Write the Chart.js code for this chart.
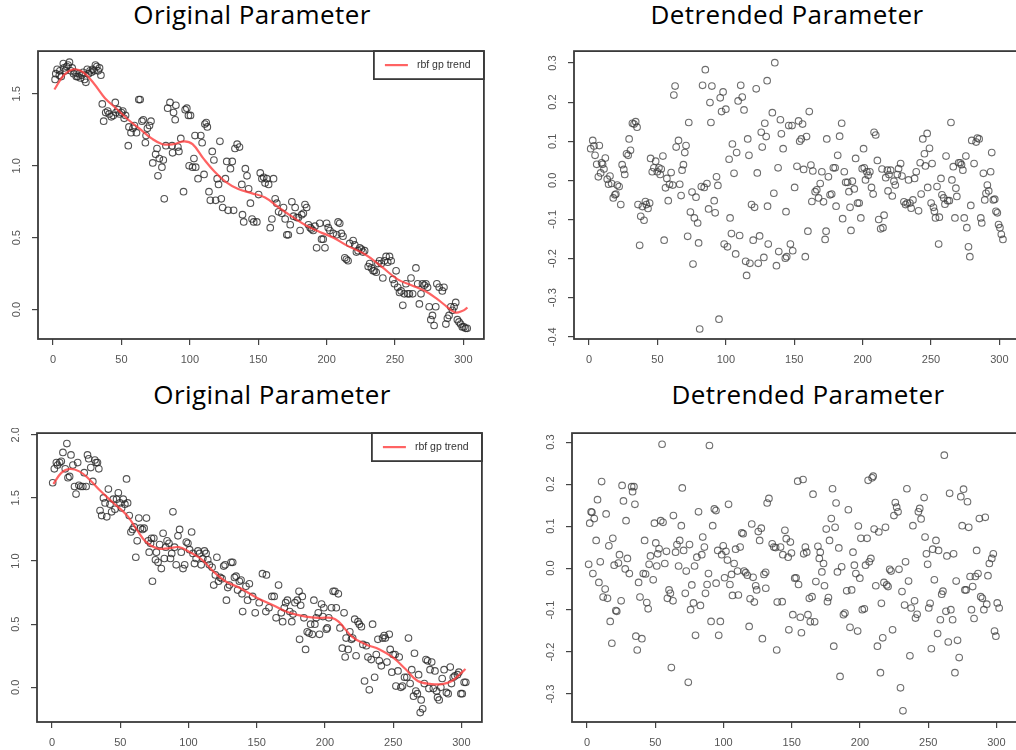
<!DOCTYPE html>
<html>
<head>
<meta charset="utf-8">
<script src="https://cdn.jsdelivr.net/npm/chart.js@4.4.1/dist/chart.umd.min.js"></script>
<style>
  html, body { margin: 0; padding: 0; background: #fff; }
  body { width: 1016px; height: 750px; position: relative; overflow: hidden; }
  canvas { position: absolute; }
  .title { position: absolute; width: 400px; text-align: center; font-family: 'Open Sans', sans-serif;
           font-size: 26px; line-height: 26px; letter-spacing: 0.4px; color: #000; white-space: nowrap; }
</style>
</head>
<body>
<div class="title" style="left:52px;top:1px">Original Parameter</div>
<div class="title" style="left:587px;top:1px">Detrended Parameter</div>
<div class="title" style="left:72px;top:381px">Original Parameter</div>
<div class="title" style="left:608px;top:381px">Detrended Parameter</div>
<canvas id="origTop"></canvas>
<canvas id="detTop"></canvas>
<canvas id="origBot"></canvas>
<canvas id="detBot"></canvas>
<script>
// tick positions
const xTickVals = [0, 50, 100, 150, 200, 250, 300];
const origTopYTicks = [0, 0.5, 1, 1.5];
const origBotYTicks = [0, 0.5, 1, 1.5, 2];
const detTopYTicks = [-0.4, -0.3, -0.2, -0.1, 0, 0.1, 0.2, 0.3];
const detBotYTicks = [-0.3, -0.2, -0.1, 0, 0.1, 0.2, 0.3];
const legendLabel = 'rbf gp trend';

// [index, value] samples, first run
const origTop = [
  [1.5,1.60],[2,1.64],[3,1.67],[4.6,1.63],[5,1.66],[6,1.62],[7.5,1.71],[8,1.68],[9,1.66],[10,1.69],
  [11,1.70],[12,1.72],[13,1.66],[14,1.68],[15,1.64],[16,1.65],[17,1.62],[18,1.62],[19,1.64],[20,1.61],
  [21,1.63],[22,1.65],[23,1.60],[24,1.58],[25,1.67],[26,1.64],[27,1.66],[28,1.65],[29,1.67],[30,1.66],
  [31,1.70],[32,1.69],[33,1.66],[34,1.68],[35,1.63],[36,1.43],[37,1.31],[38.5,1.37],[40,1.38],[41,1.36],
  [42.6,1.34],[44,1.35],[45.5,1.44],[46,1.37],[47.5,1.39],[48.6,1.36],[50,1.37],[51,1.38],[52,1.33],[53,1.35],
  [55,1.14],[55.5,1.27],[57,1.23],[58.4,1.26],[59.5,1.28],[61,1.23],[62.7,1.46],[63.7,1.46],[65,1.31],[66,1.32],
  [67.5,1.16],[68,1.21],[69,1.26],[70.5,1.28],[71.6,1.31],[72.9,1.02],[75,1.08],[76,1.12],[76.7,0.93],[77.7,1.05],
  [79.6,0.99],[80.6,1.04],[81.3,0.77],[82.5,1.14],[83.8,1.40],[85.5,1.44],[87,1.14],[87.4,1.09],[88.1,1.37],[89.3,1.32],
  [89.8,1.42],[91.3,1.13],[92,1.10],[93.4,1.19],[95.4,0.82],[96.6,1.39],[97.8,1.40],[99,1.35],[99.5,1.00],[100.5,1.35],
  [102,0.99],[103,1.05],[103.8,1.21],[104.3,0.99],[106,0.91],[108,1.21],[109,1.16],[110.4,0.94],[111,1.29],[112,1.30],
  [112.8,1.27],[114,0.82],[115,0.76],[116.4,1.10],[117.6,1.04],[118.9,0.76],[120,0.91],[121,0.87],[122,1.17],[123,0.77],
  [124,0.71],[126,0.91],[127,1.03],[128,0.69],[129.7,0.98],[131,1.03],[132,0.69],[133,1.12],[134.6,1.15],[136.3,1.13],
  [138,0.87],[138.5,0.66],[139.4,0.61],[140.6,0.98],[141.8,0.93],[143,0.84],[144.3,0.74],[145.5,0.63],[146.7,0.61],[149,0.61],
  [150.3,0.80],[151.5,0.95],[152.7,0.91],[154,0.92],[155,0.88],[156.3,0.91],[157.6,0.87],[158.8,0.57],[160,0.63],[161.2,0.91],
  [162.4,0.77],[163.6,0.74],[164.9,0.68],[167.3,0.67],[168.5,0.71],[169.7,0.63],[170.9,0.52],[172,0.52],[173.4,0.59],[174.6,0.75],
  [175.8,0.65],[177,0.71],[178.2,0.64],[179.4,0.64],[180.6,0.55],[181.8,0.66],[183,0.67],[184.2,0.73],[185.4,0.71],[186.7,0.59],
  [188,0.57],[189,0.56],[190.2,0.55],[191.5,0.58],[192.7,0.43],[195,0.60],[196.3,0.49],[197.5,0.49],[198.8,0.43],[200,0.60],
  [201.2,0.57],[202.4,0.55],[204.8,0.53],[207.3,0.52],[208.4,0.61],[209.6,0.60],[210.8,0.53],[212,0.51],[213.3,0.36],[214.5,0.35],
  [215.7,0.34],[216.9,0.46],[219.4,0.48],[220.6,0.45],[221.8,0.40],[223,0.41],[224.2,0.43],[225.4,0.42],[226.6,0.40],[227.8,0.41],
  [230.4,0.30],[231.5,0.32],[232.7,0.29],[234,0.27],[235,0.27],[236.3,0.26],[237.5,0.32],[238.7,0.34],[240,0.32],[241.1,0.22],
  [242.3,0.34],[243.5,0.37],[244.7,0.33],[246,0.37],[247.2,0.34],[248.4,0.21],[249.6,0.18],[250.8,0.27],[252,0.155],[253.3,0.12],
  [254.5,0.13],[255.7,0.03],[256.8,0.11],[258,0.18],[259.3,0.11],[260.5,0.11],[261.7,0.22],[262.9,0.11],[265.3,0.29],[266.6,0.18],
  [267.8,0.04],[269,0.11],[270.1,0.18],[271.4,0.17],[272.6,0.18],[273.8,0.155],[275,0.02],[276.2,-0.07],[277.4,-0.04],[278.6,-0.11],
  [279.8,0.02],[280.6,0.18],[282.3,0.155],[284.6,0.13],[285.8,0.155],[287.2,-0.10],[288.3,-0.06],[289.5,-0.04],[290.8,0.02],[292,-0.005],
  [293.2,0.02],[294.4,0.05],[295.6,-0.07],[296.8,-0.085],[298,-0.10],[299.2,-0.12],[300.4,-0.12],[301.6,-0.13],[302.8,-0.13]
];
const trendTop = [
  [1,1.53],[8,1.63],[15,1.67],[22,1.65],[30,1.57],[38,1.47],[46,1.40],[55,1.32],[63,1.26],[72,1.19],
  [80,1.15],[88,1.15],[96,1.17],[102,1.15],[110,1.05],[118,0.96],[126,0.89],[135,0.84],[145,0.81],[155,0.78],
  [165,0.71],[175,0.645],[185,0.585],[195,0.54],[205,0.50],[215,0.445],[228,0.385],[240,0.30],[252,0.21],[262,0.17],
  [272,0.13],[280,0.08],[288,0.02],[294,-0.02],[299,-0.01],[303,0.014]
];
const detTop = [
  [1.2,0.081],[2.7,0.102],[3.6,0.088],[4.4,0.064],[5.6,0.041],[6.8,0.009],[7.5,0.089],[8.5,0.019],[9.2,0.045],[9.9,0.041],
  [10.9,0.029],[11.9,0.057],[13.3,0.003],[14.3,-0.010],[15.3,0.011],[16.5,-0.008],[17.7,-0.045],[18.9,-0.037],[19.6,-0.035],[20.6,-0.012],
  [22,-0.016],[23.2,-0.062],[24.2,0.040],[25.4,0.028],[26.1,0.015],[27.4,0.068],[28.6,0.064],[29.3,0.106],[30.3,0.077],[31.7,0.146],
  [32.9,0.144],[34.1,0.150],[35.1,0.136],[35.8,-0.062],[37,-0.166],[37.8,-0.092],[39,-0.067],[40.2,-0.102],[41.2,-0.054],[41.9,-0.062],
  [43.1,-0.072],[44.3,-0.058],[45,0.056],[46.2,0.022],[47.4,0.032],[48.7,0.049],[49.9,0.022],[51.1,0.032],[52,0.015],[52.8,0.029],
  [54,0.062],[54.9,-0.153],[55.9,-0.019],[56.9,0.005],[57.9,-0.052],[58.8,-0.010],[60,0.020],[61.2,-0.012],[62,0.218],[62.9,0.241],
  [63.7,0.085],[65.4,0.102],[66.3,-0.010],[67.3,-0.039],[68,0.026],[69,0.040],[70,0.071],[70.9,0.089],[72.1,-0.143],[72.9,0.148],
  [74.1,-0.081],[75.3,-0.030],[76,-0.214],[77,-0.096],[78.2,-0.043],[79.4,-0.109],[80.1,-0.160],[80.9,-0.380],[82.1,-0.016],[83,0.243],
  [84.2,-0.018],[85,0.283],[86.2,-0.008],[87.4,-0.073],[88.4,0.199],[89.1,0.148],[89.8,0.241],[91.5,-0.052],[92.2,-0.083],[93.2,0.009],
  [94.2,-0.013],[95,-0.355],[95.9,0.211],[96.9,0.176],[98,0.226],[98.8,-0.163],[100,0.182],[101.2,-0.170],[102.4,0.054],[103.1,-0.096],
  [104.1,-0.136],[104.8,0.093],[106,0.018],[107.2,-0.188],[107.9,0.071],[109,0.203],[110.1,-0.141],[110.9,0.243],[112,0.213],[113.3,0.180],
  [114.5,-0.207],[115.2,-0.243],[116,0.106],[116.9,0.064],[117.6,-0.212],[118.8,-0.062],[120,-0.153],[121,-0.069],[122.2,0.234],[123,0.019],
  [123.7,-0.212],[124.7,-0.142],[125.9,0.123],[126.6,0.085],[127.8,-0.197],[128.5,0.146],[129.5,0.112],[130.2,0.255],[130.5,-0.066],[131,-0.163],
  [134,0.173],[135.8,0.301],[135.1,-0.033],[137,-0.218],[138.2,0.032],[138.7,-0.182],[139.9,0.155],[140.6,0.119],[141.9,0.081],[143.5,-0.199],
  [144,-0.080],[144.5,-0.195],[146,0.140],[147.2,-0.163],[148.4,0.140],[148.9,-0.180],[150.3,-0.018],[152,0.036],[153.2,0.152],[154,0.100],
  [155.2,0.106],[156.1,0.144],[156.9,0.028],[158.1,-0.195],[159,0.112],[160,-0.130],[161,0.176],[162.2,0.039],[162.9,-0.054],[163.6,0.024],
  [165.3,-0.029],[166.5,-0.024],[167.8,-0.045],[169,-0.008],[170.2,0.022],[171.4,-0.055],[172.6,-0.151],[173.3,-0.130],[173.8,0.106],[175,0.009],
  [176.2,-0.037],[177.4,-0.035],[178.6,0.032],[179.9,0.032],[180.6,-0.066],[181.8,0.064],[183.2,0.113],[184.7,0.146],[185.4,-0.098],[186.6,0.022],
  [187.6,-0.005],[189,-0.005],[190,-0.029],[190.8,-0.069],[191.5,-0.128],[192.5,-0.002],[193.9,-0.022],[194.9,0.056],[196.3,-0.058],[197.5,-0.058],
  [198.7,-0.096],[199.7,0.030],[200.7,0.081],[201.2,0.032],[202.1,0.001],[203.1,0.022],[204.1,0.013],[205.3,0.022],[206.5,-0.018],[207.7,-0.035],
  [208.4,0.123],[209.6,0.116],[210.8,0.051],[211.8,-0.100],[213.2,-0.124],[214.2,0.029],[214.9,-0.121],[215.7,-0.089],[216.9,0.007],[218.1,0.026],
  [218.6,-0.027],[219.3,0.015],[220.5,0.026],[221.7,-0.040],[222.9,-0.002],[223.9,-0.012],[225.4,0.015],[226.3,0.030],[227.8,0.043],[228.8,0.011],
  [230.2,-0.055],[231.4,-0.062],[232.6,-0.058],[233.6,0.001],[234.6,-0.058],[235.5,-0.071],[236.8,-0.050],[238,0.005],[239.2,0.022],[240.9,-0.078],
  [242.1,0.045],[242.8,-0.035],[244,0.106],[245.2,0.068],[245.9,0.037],[247.2,0.120],[247.6,-0.018],[248.9,0.082],[250.1,-0.058],[250.8,0.043],
  [251.8,-0.069],[252.5,-0.079],[253.3,-0.096],[254.4,-0.016],[255.6,-0.163],[256.1,-0.094],[257.3,0.005],[258,-0.037],[259.3,-0.045],[260.2,-0.061],
  [261,0.062],[262.2,-0.052],[263.4,-0.052],[264.6,0.148],[265.3,0.001],[266.3,0.035],[267.5,-0.096],[268.2,-0.020],[268.9,-0.041],[270.2,0.045],
  [271.4,0.045],[272.3,0.040],[273.3,0.026],[274.3,-0.096],[275.5,0.062],[276.2,-0.121],[277.4,-0.170],[278.4,-0.195],[279.1,-0.064],[279.8,0.102],
  [281.5,0.043],[283,0.098],[283.9,0.108],[285.2,0.106],[286.4,-0.096],[287.1,-0.109],[288.3,0.018],[289.3,-0.050],[290.2,-0.033],[291.2,-0.012],
  [292.2,-0.027],[293.6,0.022],[294.4,0.071],[295.6,-0.050],[296.6,-0.048],[297.5,-0.079],[298.5,-0.083],[299.4,-0.113],[300.4,-0.121],[301.4,-0.138],
  [302.6,-0.151]
];

// second run
const origBot = [
  [0.5,1.62],[1.7,1.73],[3.2,1.78],[4.1,1.76],[5.6,1.78],[6.8,1.79],[8,1.86],[9.7,1.73],[10.9,1.93],[11.7,1.66],
  [12.9,1.67],[13.9,1.84],[15.3,1.76],[16.5,1.59],[17.6,1.53],[18.8,1.78],[19.7,1.60],[21.1,1.59],[22.6,1.59],[23.6,1.70],
  [25,1.59],[26,1.84],[26.9,1.81],[28.4,1.74],[29.9,1.63],[31.4,1.80],[32.3,1.78],[33.3,1.78],[34.3,1.73],[35.2,1.40],
  [36.4,1.36],[37.7,1.50],[38.9,1.46],[40.1,1.35],[41.3,1.57],[42.5,1.45],[43.7,1.39],[44.9,1.49],[46.1,1.41],[47.3,1.49],
  [48.6,1.54],[49.8,1.46],[51,1.42],[52.2,1.49],[53.4,1.45],[54.6,1.65],[55.4,1.46],[56.6,1.36],[57.8,1.23],[59,1.25],
  [60.2,1.27],[61.4,1.03],[62.4,1.16],[63.6,1.34],[64.8,1.26],[66.3,1.25],[67.5,1.26],[69.2,1.34],[70.5,1.16],[71.2,1.07],
  [72.2,1.14],[72.9,1.18],[73.6,0.84],[74.6,1.18],[75.8,1.01],[76.5,1.07],[77.7,0.99],[78.9,1.13],[80.1,0.94],[81.4,1.22],
  [82.3,1.02],[83.3,1.11],[84.3,1.16],[85.7,1.14],[86.8,1.02],[87.7,1.06],[88.6,1.39],[89.8,1.11],[91,0.97],[92.3,1.20],
  [93.5,1.25],[94.7,1.07],[96,0.94],[97.2,0.97],[98.4,1.15],[99.6,1.14],[100.8,1.09],[102.3,1.23],[103.3,1.06],[104.4,0.98],
  [105.6,1.02],[106.9,1.08],[108.1,1.06],[109.3,0.97],[110.5,1.02],[111.7,1.08],[112.9,1.06],[114.1,1.01],[115.3,0.97],[117.3,0.95],
  [118.5,0.81],[119.7,0.89],[120.8,1.03],[122,0.84],[123.2,0.87],[124.6,0.86],[125.8,0.96],[126.8,0.97],[127.8,0.69],[128.8,0.79],
  [130,0.81],[131.2,0.99],[132.4,0.99],[133.7,0.87],[134.9,0.88],[136,0.77],[137.3,0.84],[138.5,0.85],[139.2,0.74],[139.7,0.60],
  [142.1,0.80],[143.3,0.69],[144.6,0.82],[147,0.72],[148.9,0.59],[151.8,0.67],[154.2,0.90],[156.7,0.60],[157.1,0.89],[159,0.63],
  [161.1,0.72],[162.8,0.72],[164.2,0.55],[166,0.81],[168,0.59],[169,0.52],[170.2,0.63],[171.2,0.67],[172.5,0.69],[174.2,0.60],
  [175.7,0.52],[176.6,0.58],[178,0.67],[179.7,0.69],[181,0.76],[181.4,0.38],[182.2,0.65],[183.4,0.72],[184.6,0.55],[185.8,0.30],
  [187,0.44],[188.3,0.43],[189.5,0.50],[190.7,0.42],[191.9,0.69],[192.6,0.50],[193.6,0.55],[195.1,0.59],[196,0.42],[197.5,0.66],
  [198.5,0.56],[199.2,0.63],[201,0.46],[201.7,0.47],[202.8,0.55],[204.8,0.63],[206,0.76],[207.3,0.76],[208.3,0.63],[209.8,0.74],
  [211,0.47],[212.7,0.31],[214,0.59],[214.8,0.24],[215.5,0.39],[217,0.30],[218.2,0.44],[219.4,0.38],[220.3,0.39],[221.8,0.54],
  [222.8,0.25],[224.2,0.52],[225.2,0.50],[226.7,0.48],[227.8,0.34],[229,0.05],[230.3,0.33],[231.5,0.24],[232.5,-0.02],[233.9,0.22],
  [234.9,0.50],[236.4,0.08],[237.6,0.26],[238.8,0.38],[239.8,0.21],[241.3,0.17],[242.2,0.39],[243.4,0.41],[244.2,0.39],[245.4,0.20],
  [247.1,0.42],[247.8,0.30],[249,0.12],[250,0.26],[251.4,0.26],[252,0.01],[253.5,0.13],[254.4,0.24],[255.6,0.00],[256.8,0.01],
  [258.3,0.08],[260,0.08],[261.2,0.39],[262.4,0.03],[263.6,0.14],[264.9,-0.07],[265.6,0.27],[266.6,-0.03],[267.7,-0.05],[268.6,0.10],
  [269.8,-0.20],[270.5,-0.10],[271.6,-0.17],[272.8,0.03],[274,0.22],[275.2,0.21],[276.2,-0.01],[277,0.14],[278.2,0.20],[279.4,-0.01],
  [280.6,0.13],[281.8,-0.03],[282.5,-0.08],[283.7,-0.10],[284.9,0.00],[285.9,0.07],[287.3,0.14],[289,-0.04],[290.3,-0.05],[291.8,0.16],
  [292.7,0.03],[294,0.08],[295.2,0.09],[297.1,0.10],[298.1,0.12],[299.6,-0.05],[300.6,-0.05],[302,0.04],[303.2,0.04]
];
const trendBot = [
  [1,1.61],[7,1.70],[13,1.73],[20,1.71],[27,1.65],[35,1.56],[45,1.46],[55,1.36],[62,1.25],[69,1.15],
  [77,1.10],[85,1.10],[93,1.11],[101,1.07],[110,1.01],[118,0.92],[127,0.84],[137,0.79],[150,0.71],[162,0.65],
  [174,0.59],[186,0.56],[196,0.55],[205,0.55],[210,0.52],[220,0.40],[230,0.34],[240,0.30],[250,0.235],[259,0.145],
  [268,0.05],[278,0.026],[286,0.026],[293,0.05],[299,0.105],[303,0.145]
];
const detBot = [
  [1.2,0.009],[2,0.107],[3,0.134],[3.6,0.133],[4.3,-0.013],[5.3,0.118],[6.7,0.066],[7.7,0.163],[8.7,-0.034],[9.7,0.015],
  [10.7,0.206],[11.8,-0.069],[13.3,-0.050],[14,0.129],[15,-0.072],[16,0.053],[17,-0.127],[18.2,-0.179],[18.9,0.071],[19.9,0.007],
  [21.1,-0.101],[21.8,-0.103],[23,0.012],[23.8,0.032],[25,-0.078],[25.7,0.197],[26.7,0.160],[28,-0.002],[28.6,0.113],[29.6,0.023],
  [31,-0.013],[32.7,0.194],[33.4,0.182],[34.4,0.194],[35.1,0.152],[35.8,-0.162],[36.8,-0.195],[37.8,-0.034],[38.8,-0.069],[40.2,-0.168],
  [41.2,-0.013],[42.2,0.066],[42.9,-0.014],[43.8,-0.082],[44.8,-0.097],[45.5,0.009],[46.5,0.029],[48.5,-0.028],[49.4,0.107],[50.4,0.060],
  [51.1,0.005],[51.8,0.034],[52.8,0.046],[54,0.113],[55,0.295],[55.7,0.109],[57,0.011],[58.2,0.040],[58.9,-0.072],[60.1,-0.052],
  [61.1,-0.060],[61.8,-0.237],[63,-0.078],[63.3,0.125],[64.9,0.038],[65.9,0.056],[67.1,0.005],[67.9,0.066],[69.1,0.101],[69.8,0.191],
  [70.8,0.042],[72,-0.060],[72.7,-0.007],[74.2,-0.272],[75.1,0.056],[75.9,-0.099],[76.8,-0.040],[78,-0.083],[78.8,0.005],[79.5,-0.160],
  [80.5,0.026],[81.7,0.134],[83.1,-0.089],[84.1,0.032],[84.8,0.074],[86,0.050],[86.8,-0.060],[88,-0.039],[89,-0.013],[89.7,0.292],
  [90.9,-0.127],[92.1,0.101],[93.3,0.141],[94.5,0.137],[94.6,-0.036],[95.8,0.042],[96.5,-0.160],[97.7,-0.127],[98.7,0.032],[99.8,0.053],
  [100.8,-0.023],[101.8,0.040],[102.9,0.019],[103.7,0.152],[104.7,-0.039],[105.9,-0.015],[106.6,-0.065],[107.8,0.011],[108.9,0.045],[110.3,-0.007],
  [110.9,-0.064],[112.2,0.050],[113.4,0.084],[114.4,0.082],[115.1,-0.007],[116.3,-0.011],[117.5,-0.017],[118.8,-0.139],[119.5,-0.073],[120.7,0.105],
  [121.7,-0.022],[122.6,-0.081],[123.6,-0.042],[124.3,-0.052],[125.5,0.087],[126.5,0.066],[127.7,0.095],[128.5,-0.168],[129.7,-0.015],[130.9,-0.010],
  [131,-0.048],[132,0.155],[133.3,0.166],[135.7,0.058],[136.9,0.050],[138.2,0.049],[139,-0.195],[139.4,-0.081],[141.8,0.050],[143,-0.080],
  [143.5,0.032],[145,0.090],[146,0.070],[147.4,0.026],[147.9,-0.147],[149,0.062],[149.8,0.036],[150.8,-0.111],[152.2,-0.024],[153.2,-0.023],
  [154.4,0.207],[155,-0.039],[156.3,-0.117],[157.1,-0.154],[158.3,0.211],[158.8,0.034],[160,0.050],[161,0.038],[161.9,-0.111],[162.9,-0.072],
  [163.6,-0.128],[164.9,-0.068],[165.6,0.176],[166.8,-0.128],[167.7,-0.032],[169.2,0.052],[170.2,0.023],[170.9,0.038],[172.1,-0.009],[173.3,0.011],
  [174,-0.042],[175.3,0.093],[176.2,-0.080],[176.9,-0.070],[177.7,0.066],[179,0.118],[179.9,0.189],[180.8,-0.186],[181.8,0.097],[182.5,0.155],
  [183.5,-0.009],[184.5,0.048],[185.4,-0.258],[186.6,0.003],[187.9,-0.111],[189,-0.107],[190.3,-0.054],[191.5,0.139],[192.7,-0.141],[193.9,-0.052],
  [194.9,0.038],[195.9,0.007],[197,-0.013],[198.3,-0.150],[198.8,0.100],[199.9,-0.024],[200.7,0.071],[201.7,-0.099],[203.2,-0.097],[204.1,0.007],
  [205.2,0.071],[206,0.209],[206.8,0.015],[208,0.023],[208.9,0.215],[209.7,0.219],[210.4,0.093],[211.6,-0.042],[212.8,-0.186],[213.8,0.086],
  [215,-0.249],[215.7,-0.084],[216.7,-0.166],[217.6,-0.034],[218.7,0.097],[219.6,-0.040],[220.6,-0.044],[221.8,-0.003],[222.8,-0.007],[223.9,-0.147],
  [224.9,0.125],[225.9,0.156],[226.9,0.145],[227.9,0.134],[228.6,-0.003],[229.7,-0.285],[230.8,-0.056],[231.5,-0.340],[232.7,-0.088],[233.4,0.015],
  [234.4,0.189],[235.6,-0.031],[236.6,-0.209],[237.5,-0.095],[238.8,0.101],[240,-0.078],[240.7,-0.119],[241.9,-0.110],[242.8,0.134],[243.8,0.142],
  [244.8,0.117],[247,0.168],[247.7,0.074],[248.7,0.034],[249.6,0.009],[250.4,-0.095],[251.4,-0.084],[252.3,-0.192],[253.3,0.045],[254.5,-0.028],
  [255.7,0.066],[256.9,-0.156],[257.6,0.042],[258.9,-0.123],[259.9,-0.062],[260.8,-0.055],[261.8,0.269],[263,-0.103],[263.7,0.029],[264.7,-0.176],
  [265.7,0.178],[266.6,-0.099],[267.9,-0.123],[268.6,0.034],[269.6,-0.249],[270.5,-0.031],[271.5,-0.172],[272.7,-0.213],[273.9,0.170],[274.9,0.101],
  [275.9,0.188],[276.9,-0.052],[277.8,-0.052],[278.8,0.158],[279.7,0.097],[280.7,-0.020],[281.7,-0.099],[282.6,-0.044],[283.6,-0.120],[284.6,-0.020],
  [285.5,0.042],[286.5,-0.013],[287.5,0.118],[288.5,-0.068],[289.7,-0.072],[290.8,-0.099],[291.8,0.121],[292.9,-0.086],[293.8,-0.018],[294.8,0.011],
  [296.6,0.023],[297.7,0.034],[298.6,-0.150],[299.6,-0.162],[300.6,-0.083],[302,-0.095]
];

// frame, rotated y labels and the legend box, drawn the way R's base plot does
const rFrame = {
  id: 'rFrame',
  afterDraw(chart, args, opts) {
    const { ctx, chartArea: a } = chart;
    const ys = chart.scales.y;
    ctx.save();
    ctx.strokeStyle = '#3a3a3a';
    ctx.lineWidth = 1.8;
    ctx.strokeRect(a.left, a.top, a.right - a.left, a.bottom - a.top);

    ctx.fillStyle = '#555';
    ctx.font = '11px "Liberation Sans", Arial, sans-serif';
    ctx.textAlign = 'center';
    ctx.textBaseline = 'middle';
    ys.ticks.forEach(t => {
      ctx.save();
      ctx.translate(a.left - 21, ys.getPixelForValue(t.value));
      ctx.rotate(-Math.PI / 2);
      ctx.fillText(t.value.toFixed(1), 0, 0);
      ctx.restore();
    });

    if (opts.legend) {
      const w = 110, h = 28;
      const lx = a.right - w, ly = a.top;
      ctx.strokeStyle = '#3a3a3a';
      ctx.lineWidth = 1.8;
      ctx.strokeRect(lx, ly, w, h);
      ctx.strokeStyle = 'rgba(255,60,60,0.8)';
      ctx.lineWidth = 2.2;
      ctx.beginPath();
      ctx.moveTo(lx + 11, ly + 14);
      ctx.lineTo(lx + 34, ly + 14);
      ctx.stroke();
      ctx.fillStyle = '#333';
      ctx.font = '10.5px "Liberation Sans", Arial, sans-serif';
      ctx.textAlign = 'left';
      ctx.fillText(opts.legend, lx + 43, ly + 14);
    }
    ctx.restore();
  }
};

function makePanel(id, box, yRange, yTicks, pts, trend, ptColor) {
  const cv = document.getElementById(id);
  cv.width = box.r - box.l + 42;
  cv.height = box.b - box.t + 38;
  cv.style.left = (box.l - 40) + 'px';
  cv.style.top = (box.t - 2) + 'px';

  const datasets = [];
  if (trend) {
    datasets.push({
      type: 'line', data: trend, borderColor: 'rgba(255,60,60,0.8)', borderWidth: 2.2,
      pointRadius: 0, tension: 0.4, fill: false
    });
  }
  datasets.push({
    type: 'scatter', data: pts, pointStyle: 'circle', pointRadius: 3.3, pointBorderWidth: 1.1,
    pointBorderColor: ptColor, pointBackgroundColor: 'rgba(0,0,0,0)'
  });

  const tickFont = { family: '"Liberation Sans", Arial, sans-serif', size: 11 };
  return new Chart(cv, {
    type: 'scatter',
    data: { datasets },
    plugins: [rFrame],
    options: {
      responsive: false,
      animation: false,
      events: [],
      layout: { padding: { left: 0, top: 2, right: 2, bottom: 0 } },
      plugins: {
        legend: { display: false },
        tooltip: { enabled: false },
        rFrame: { legend: trend ? legendLabel : null }
      },
      scales: {
        x: {
          type: 'linear', min: -11, max: 315,
          afterBuildTicks: s => { s.ticks = xTickVals.map(v => ({ value: v })); },
          afterFit: s => { s.height = 36; },
          border: { display: false },
          grid: { drawOnChartArea: false, drawTicks: true, tickLength: 6, color: '#444', lineWidth: 1.2 },
          ticks: { color: '#555', font: tickFont, padding: 8, maxRotation: 0, autoSkip: false,
                   callback: v => String(v) }
        },
        y: {
          type: 'linear', min: yRange[0], max: yRange[1],
          afterBuildTicks: s => { s.ticks = yTicks.map(v => ({ value: v })); },
          afterFit: s => { s.width = 40; },
          border: { display: false },
          grid: { drawOnChartArea: false, drawTicks: true, tickLength: 6, color: '#444', lineWidth: 1.2 },
          ticks: { display: false }
        }
      }
    }
  });
}

makePanel('origTop', { l: 38, t: 48, r: 487, b: 339 }, [-0.204, 1.797], origTopYTicks, origTop, trendTop, 'rgba(40,40,40,0.8)');
makePanel('detTop', { l: 574, t: 48, r: 1023, b: 339 }, [-0.4056, 0.3305], detTopYTicks, detTop, null, 'rgba(60,60,60,0.75)');
makePanel('origBot', { l: 37, t: 430, r: 485, b: 722 }, [-0.2745, 2.013], origBotYTicks, origBot, trendBot, 'rgba(40,40,40,0.8)');
makePanel('detBot', { l: 572, t: 430, r: 1020, b: 722 }, [-0.3665, 0.3215], detBotYTicks, detBot, null, 'rgba(60,60,60,0.75)');
</script>
</body>
</html>
